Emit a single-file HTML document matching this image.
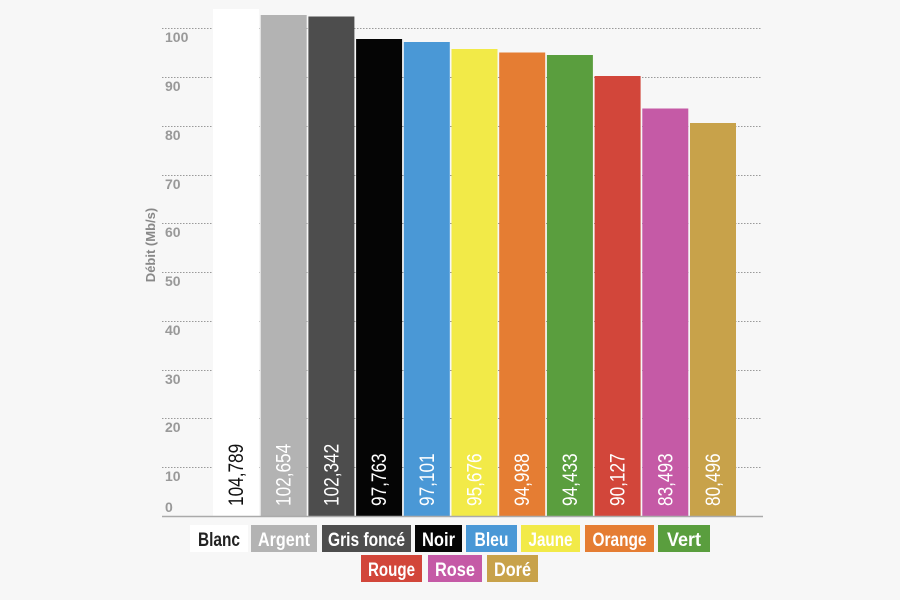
<!DOCTYPE html>
<html><head><meta charset="utf-8"><style>
html,body{margin:0;padding:0;background:#f7f7f7;}
svg{display:block;font-family:"Liberation Sans",sans-serif;}
</style></head><body>
<svg width="900" height="600" viewBox="0 0 900 600" xmlns="http://www.w3.org/2000/svg">
<rect width="900" height="600" fill="#f7f7f7"/>
<g stroke="#9a9a9a" stroke-width="1" stroke-dasharray="1.5,1.5">
<line x1="162" y1="28.5" x2="762" y2="28.5"/>
<line x1="162" y1="77.5" x2="762" y2="77.5"/>
<line x1="162" y1="126.5" x2="762" y2="126.5"/>
<line x1="162" y1="175.5" x2="762" y2="175.5"/>
<line x1="162" y1="223.5" x2="762" y2="223.5"/>
<line x1="162" y1="272.5" x2="762" y2="272.5"/>
<line x1="162" y1="321.5" x2="762" y2="321.5"/>
<line x1="162" y1="370.5" x2="762" y2="370.5"/>
<line x1="162" y1="418.5" x2="762" y2="418.5"/>
<line x1="162" y1="467.5" x2="762" y2="467.5"/>
</g>
<g fill="#999" font-size="14" font-weight="bold">
<text x="165" y="42">100</text><text x="165" y="91">90</text><text x="165" y="140">80</text>
<text x="165" y="189">70</text><text x="165" y="237">60</text><text x="165" y="286">50</text>
<text x="165" y="335">40</text><text x="165" y="384">30</text><text x="165" y="432">20</text>
<text x="165" y="481">10</text><text x="165" y="512">0</text>
</g>
<text transform="translate(155,245) rotate(-90)" text-anchor="middle" fill="#888" font-size="13" font-weight="bold">Débit (Mb/s)</text>
<g>
<rect x="213" y="9" width="46" height="507" fill="#ffffff"/>
<rect x="260.7" y="15" width="46" height="501" fill="#b3b3b3"/>
<rect x="308.4" y="16.5" width="46" height="499.5" fill="#4d4d4d"/>
<rect x="356.1" y="39" width="46" height="477" fill="#050505"/>
<rect x="403.8" y="42" width="46" height="474" fill="#4a98d6"/>
<rect x="451.5" y="49" width="46" height="467" fill="#f2ea48"/>
<rect x="499.2" y="52.5" width="46" height="463.5" fill="#e57d33"/>
<rect x="546.9" y="55" width="46" height="461" fill="#5a9e3e"/>
<rect x="594.6" y="76" width="46" height="440" fill="#d2463a"/>
<rect x="642.3" y="108.5" width="46" height="407.5" fill="#c55aa6"/>
<rect x="690" y="123" width="46" height="393" fill="#c8a24a"/>
</g>
<line x1="162" y1="516.5" x2="763" y2="516.5" stroke="#aaa" stroke-width="1.5"/>
<g font-size="21" fill="#fff">
<text transform="translate(243,506) rotate(-90) scale(0.82,1)" fill="#111">104,789</text>
<text transform="translate(290.7,506) rotate(-90) scale(0.82,1)">102,654</text>
<text transform="translate(338.4,506) rotate(-90) scale(0.82,1)">102,342</text>
<text transform="translate(386.1,506) rotate(-90) scale(0.82,1)">97,763</text>
<text transform="translate(433.8,506) rotate(-90) scale(0.82,1)">97,101</text>
<text transform="translate(481.5,506) rotate(-90) scale(0.82,1)">95,676</text>
<text transform="translate(529.2,506) rotate(-90) scale(0.82,1)">94,988</text>
<text transform="translate(576.9,506) rotate(-90) scale(0.82,1)">94,433</text>
<text transform="translate(624.6,506) rotate(-90) scale(0.82,1)">90,127</text>
<text transform="translate(672.3,506) rotate(-90) scale(0.82,1)">83,493</text>
<text transform="translate(720,506) rotate(-90) scale(0.82,1)">80,496</text>
</g>
<g font-size="19" font-weight="bold" text-anchor="middle" fill="#fff">
<rect x="190" y="525" width="58" height="27" fill="#fff"/><text x="219" y="546" fill="#222" textLength="42" lengthAdjust="spacingAndGlyphs">Blanc</text>
<rect x="251" y="525" width="66" height="27" fill="#b3b3b3"/><text x="284" y="546" textLength="52" lengthAdjust="spacingAndGlyphs">Argent</text>
<rect x="322" y="525" width="89" height="27" fill="#4d4d4d"/><text x="366.5" y="546" textLength="77" lengthAdjust="spacingAndGlyphs">Gris foncé</text>
<rect x="415" y="525" width="47" height="27" fill="#050505"/><text x="438.5" y="546" textLength="33" lengthAdjust="spacingAndGlyphs">Noir</text>
<rect x="466" y="525" width="51" height="27" fill="#4a98d6"/><text x="491.5" y="546" textLength="34" lengthAdjust="spacingAndGlyphs">Bleu</text>
<rect x="521" y="525" width="59" height="27" fill="#f2ea48"/><text x="550.5" y="546" textLength="44" lengthAdjust="spacingAndGlyphs">Jaune</text>
<rect x="585" y="525" width="69" height="27" fill="#e57d33"/><text x="619.5" y="546" textLength="54" lengthAdjust="spacingAndGlyphs">Orange</text>
<rect x="658" y="525" width="52" height="27" fill="#5a9e3e"/><text x="684" y="546" textLength="34" lengthAdjust="spacingAndGlyphs">Vert</text>
<rect x="361" y="555" width="61" height="27" fill="#d2463a"/><text x="391.5" y="576" textLength="47" lengthAdjust="spacingAndGlyphs">Rouge</text>
<rect x="428" y="555" width="54" height="27" fill="#c55aa6"/><text x="455" y="576" textLength="40" lengthAdjust="spacingAndGlyphs">Rose</text>
<rect x="487" y="555" width="51" height="27" fill="#c8a24a"/><text x="512.5" y="576" textLength="37" lengthAdjust="spacingAndGlyphs">Doré</text>
</g>
</svg>
</body></html>
